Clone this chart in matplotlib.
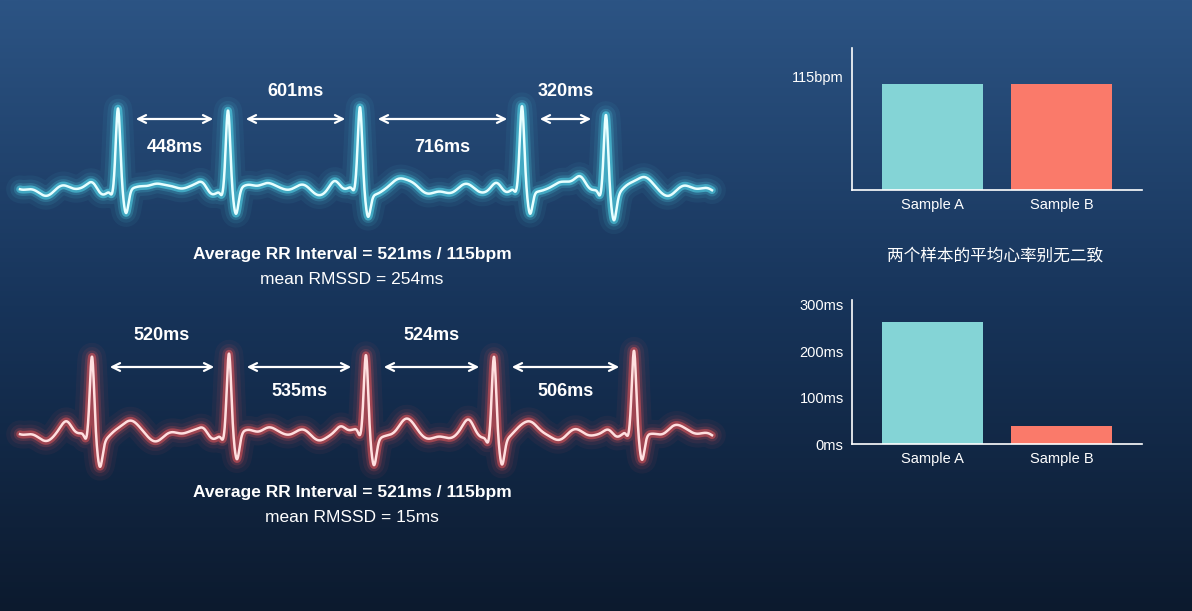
import numpy as np
import matplotlib
matplotlib.use("Agg")
import matplotlib.pyplot as plt
from matplotlib.colors import LinearSegmentedColormap

W, H = 1192, 611
# ---- data ----
top_beats = [118, 228, 360, 522, 606]          # beat positions (px)
bot_beats = [92, 229, 366, 494, 634]
top_intervals = ["448ms", "601ms", "716ms", "320ms"]
bot_intervals = ["520ms", "535ms", "524ms", "506ms"]
top_summary = ("Average RR Interval = 521ms / 115bpm", "mean RMSSD = 254ms")
bot_summary = ("Average RR Interval = 521ms / 115bpm", "mean RMSSD = 15ms")
samples = ["Sample A", "Sample B"]
hr_values = [107, 107]
hr_ticks = [115]; hr_ticklabels = ["115bpm"]
rmssd_values = [262, 38]
rmssd_ticks = [0, 100, 200, 300]; rmssd_ticklabels = ["0ms", "100ms", "200ms", "300ms"]
caption = "两个样本的平均心率别无二致"

fig = plt.figure(figsize=(W/100, H/100), dpi=100)
bg = fig.add_axes([0, 0, 1, 1])
cmap = LinearSegmentedColormap.from_list("bg", ["#2c5484", "#17345a", "#0c1a2e"])
bg.imshow(np.linspace(0, 1, 256)[:, None], aspect="auto", cmap=cmap, extent=[0, W, H, 0])
bg.set_xlim(0, W); bg.set_ylim(H, 0); bg.axis("off")

def ecg(beats, base, amp, xs):
    y = np.zeros_like(xs)
    for b in beats:
        y += 0.12*amp*np.exp(-((xs-(b-25))/7)**2)      # P
        y -= 0.08*amp*np.exp(-((xs-(b-6))/2.5)**2)     # Q
        y += 1.0*amp*np.exp(-((xs-b)/3.0)**2)          # R
        y -= 0.32*amp*np.exp(-((xs-(b+8))/3.5)**2)     # S
        y += 0.16*amp*np.exp(-((xs-(b+38))/10)**2)     # T
    y += 0.05*amp*np.sin(xs/9.0) + 0.03*amp*np.sin(xs/4.3)
    return base - y

xs = np.linspace(20, 712, 3000)
for beats, base, amp, glow, core in [(top_beats, 190, 78, "#5cf0ff", "#e8ffff"),
                                     (bot_beats, 435, 80, "#ff5a5a", "#ffe0e0")]:
    ys = ecg(beats, base, amp, xs)
    for lw, a in [(20, 0.05), (14, 0.08), (9, 0.16), (5.5, 0.45)]:
        bg.plot(xs, ys, color=glow, lw=lw, alpha=a, solid_capstyle="round")
    bg.plot(xs, ys, color=core, lw=1.8)

def arrows(beats, labels, ya, first_above, ylab_up, ylab_dn):
    for i, lab in enumerate(labels):
        x0, x1 = beats[i] + 15, beats[i+1] - 12
        bg.annotate("", xy=(x0, ya), xytext=(x1, ya),
                    arrowprops=dict(arrowstyle="<->", color="white", lw=1.6, mutation_scale=14))
        above = (i % 2 == 0) == first_above
        bg.text((x0+x1)/2, ylab_up if above else ylab_dn, lab, color="white",
                fontsize=13, fontweight="bold", ha="center", va="center", family="Liberation Sans")

arrows(top_beats, top_intervals, 119, False, 92, 148)
arrows(bot_beats, bot_intervals, 367, True, 335, 391)

for (l1, l2), y in [(top_summary, 255), (bot_summary, 493)]:
    bg.text(352, y, l1, color="white", fontsize=12.5, fontweight="bold", ha="center", va="center", family="Liberation Sans")
    bg.text(352, y+24, l2, color="white", fontsize=12.5, ha="center", va="center", family="Liberation Sans")

bg.text(995, 256, caption, color="white", fontsize=12, ha="center", va="center", family="Noto Sans CJK SC")

def bars(rect, vals, ylim, ticks, ticklabels, colors):
    ax = fig.add_axes(rect)
    ax.patch.set_alpha(0)
    ax.bar([0, 1], vals, width=0.78, color=colors)
    ax.set_xlim(-0.62, 1.62); ax.set_ylim(*ylim)
    ax.set_xticks([0, 1]); ax.set_xticklabels(samples)
    ax.set_yticks(ticks); ax.set_yticklabels(ticklabels)
    for s in ["top", "right"]:
        ax.spines[s].set_visible(False)
    for s in ["left", "bottom"]:
        ax.spines[s].set_color("white"); ax.spines[s].set_linewidth(1.2)
    ax.tick_params(colors="white", length=0, labelsize=10.5, pad=6)
    for t in ax.get_xticklabels() + ax.get_yticklabels():
        t.set_family("Liberation Sans")

cols = ["#84d4d6", "#fa7a6a"]
bars([852/W, 1-190/H, 290/W, 142/H], hr_values, (0, 144), hr_ticks, hr_ticklabels, cols)
bars([852/W, 1-444/H, 290/W, 144/H], rmssd_values, (0, 310), rmssd_ticks, rmssd_ticklabels, cols)

fig.savefig("out.png", dpi=100)
